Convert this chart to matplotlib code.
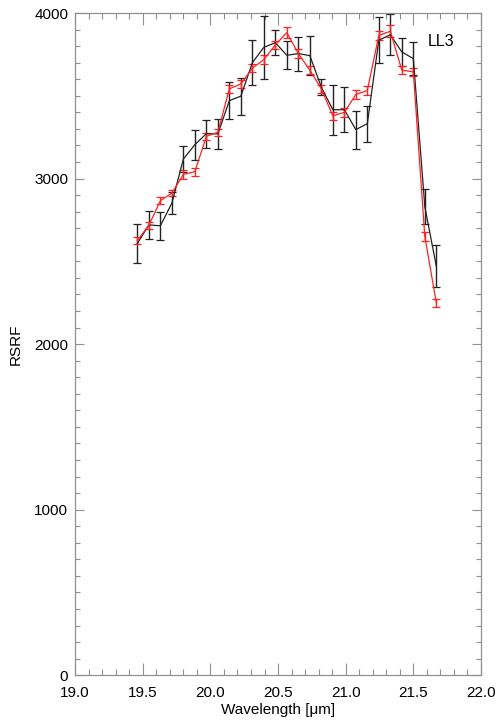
import matplotlib
matplotlib.use("Agg")
import matplotlib.pyplot as plt
from matplotlib.ticker import MultipleLocator

plt.rcParams["font.family"] = ["Liberation Sans", "DejaVu Sans"]

# wavelength grid of the spectral samples [um]
wavelength = [19.46, 19.545, 19.63, 19.715, 19.80, 19.885, 19.97, 20.055, 20.14,
              20.225, 20.31, 20.395, 20.48, 20.565, 20.65, 20.735, 20.82, 20.905,
              20.99, 21.075, 21.16, 21.245, 21.33, 21.415, 21.50, 21.585, 21.67]

# black curve with its errors
rsrf_black = [2608, 2720, 2715, 2852, 3118, 3205, 3271, 3270, 3471, 3498, 3700,
              3793, 3821, 3745, 3755, 3743, 3552, 3416, 3416, 3296, 3332, 3836,
              3869, 3765, 3725, 2830, 2470]
err_black = [119, 82, 85, 66, 80, 90, 85, 90, 111, 111, 137, 190, 75, 84, 102,
             117, 48, 150, 137, 115, 108, 139, 125, 87, 102, 105, 127]

# red curve with its errors
rsrf_red = [2627, 2718, 2866, 2913, 3025, 3042, 3255, 3280, 3542, 3572, 3667,
            3719, 3808, 3882, 3755, 3655, 3542, 3379, 3400, 3508, 3532, 3865,
            3890, 3655, 3645, 2650, 2250]
err_red = [20, 20, 20, 20, 25, 25, 20, 20, 25, 25, 25, 25, 25, 35, 25, 25, 25,
           25, 25, 30, 25, 25, 35, 25, 25, 25, 25]

fig = plt.figure(figsize=(5.01, 7.26), dpi=100)
ax = fig.add_axes([0.150, 0.070, 0.810, 0.912])

ax.errorbar(wavelength, rsrf_black, yerr=err_black, color="#222222", lw=0.9,
            elinewidth=1.0, capsize=2.6, capthick=0.9)
ax.errorbar(wavelength, rsrf_red, yerr=err_red, color="#ff2020", lw=0.9,
            elinewidth=1.0, capsize=2.6, capthick=0.9)

ax.text(21.61, 3830, "LL3", fontsize=11.5, color="black", va="center", ha="left")

ax.set_xlim(19.0, 22.0)
ax.set_ylim(0, 4000)
ax.xaxis.set_major_locator(MultipleLocator(0.5))
ax.xaxis.set_minor_locator(MultipleLocator(0.1))
ax.yaxis.set_major_locator(MultipleLocator(1000))
ax.yaxis.set_minor_locator(MultipleLocator(100))
ax.xaxis.set_major_formatter(matplotlib.ticker.FormatStrFormatter("%.1f"))

for side in ax.spines.values():
    side.set_color("#909090")
    side.set_linewidth(0.9)

ax.tick_params(axis="both", which="both", direction="in", top=True, right=True,
               color="#909090", labelsize=11, labelcolor="black", width=0.8)
ax.tick_params(axis="x", which="major", length=8.6, pad=8)
ax.tick_params(axis="x", which="minor", length=4.3)
ax.tick_params(axis="y", which="major", length=6.5, pad=5)
ax.tick_params(axis="y", which="minor", length=3.6)

ax.set_xlabel("Wavelength [\u03bcm]", fontsize=11, labelpad=2)
ax.set_ylabel("RSRF", fontsize=11, labelpad=8)

fig.savefig("out.png", dpi=100)
